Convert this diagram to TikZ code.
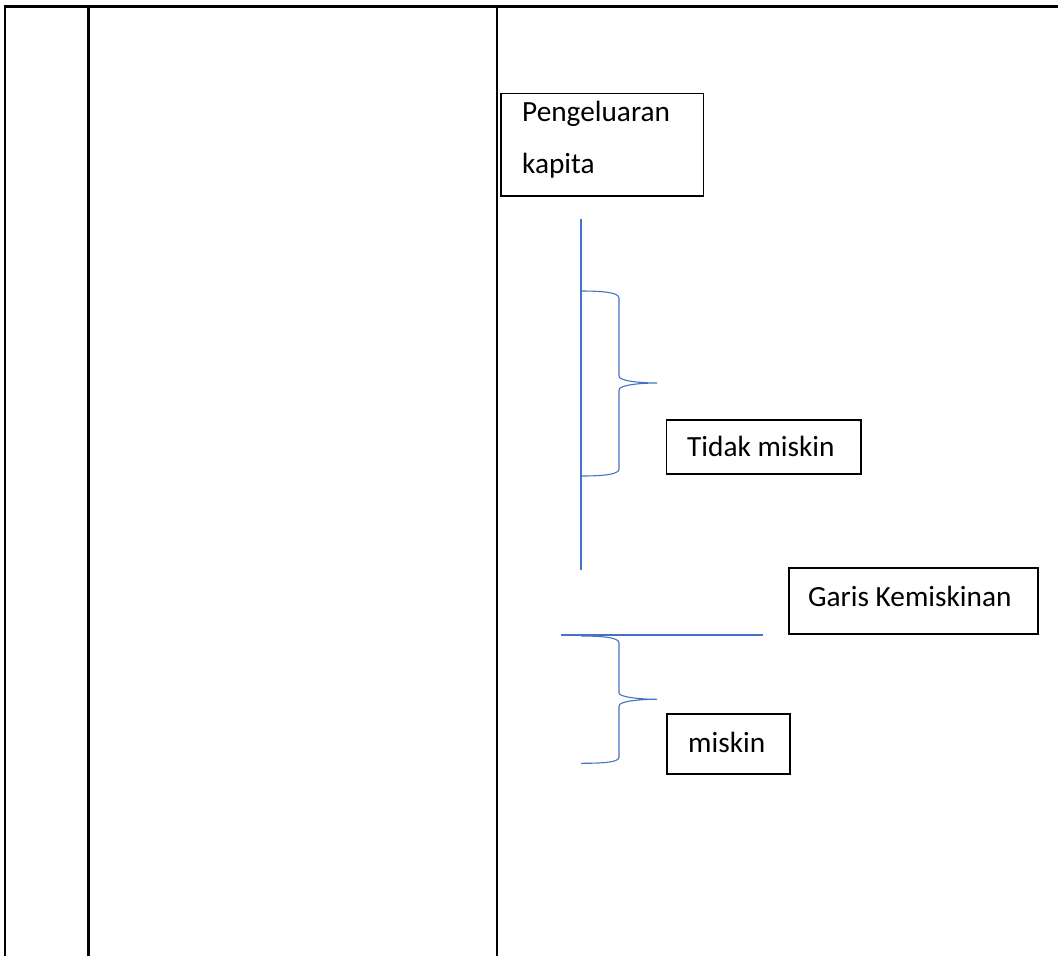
\documentclass[tikz,border=0pt]{standalone}
\usepackage{fontspec}
\setmainfont{Carlito}
\definecolor{bl}{HTML}{4472C4}
\tikzset{
  tbl/.style={line width=2.2pt, black},
  box/.style={draw=black, line width=1.5pt, inner sep=0pt, anchor=north west},
  lbl/.style={inner sep=0pt, anchor=base west, font=\fontsize{29.3}{35}\selectfont},
  blueline/.style={draw=bl, line width=1.1pt},
}
\begin{document}
\begin{tikzpicture}[x=1pt,y=-1pt]
\useasboundingbox (0,0) rectangle (1058,956);
% table lines
\draw[tbl] (4,6.5) -- (1058,6.5);
\draw[tbl] (5,5.5) -- (5,956);
\draw[tbl] (88.5,5.5) -- (88.5,956);
\draw[tbl] (497,5.5) -- (497,956);
% boxes
\node[box, minimum width=202.7pt, minimum height=102.3pt] (pk) at (500,92.7) {};
\node[lbl] (pkt1) at (522,121.7) {Pengeluaran};
\node[lbl] (pkt2) at (522,173.3) {kapita};
\node[box, minimum width=194.3pt, minimum height=54pt] (tm) at (665.7,419) {};
\node[lbl] (tmt) at (687,456.7) {Tidak miskin};
\node[box, minimum width=249pt, minimum height=66pt] (gk) at (788.3,567.3) {};
\node[lbl] (gkt) at (808,606) {Garis Kemiskinan};
\node[box, minimum width=123.3pt, minimum height=60pt] (mk) at (666,713.3) {};
\node[lbl] (mkt) at (688,752.7) {miskin};
% blue axis
\draw[blueline] (581,219) -- (581,570);
\draw[blueline] (561,635) -- (763,635);
% braces
\draw[blueline] (581,291) .. controls (606,291) and (619,293) .. (619,298) -- (619,376)
  .. controls (619,381) and (640,383) .. (657,383)
  .. controls (640,383) and (619,385) .. (619,390) -- (619,469)
  .. controls (619,474) and (606,476) .. (581,476);
\draw[blueline] (581,636) .. controls (606,636) and (619,638) .. (619,643) -- (619,693)
  .. controls (619,697) and (640,699.3) .. (657,699.3)
  .. controls (640,699.3) and (619,701) .. (619,706) -- (619,757)
  .. controls (619,762) and (606,763.3) .. (581,763.3);
\end{tikzpicture}
\end{document}
